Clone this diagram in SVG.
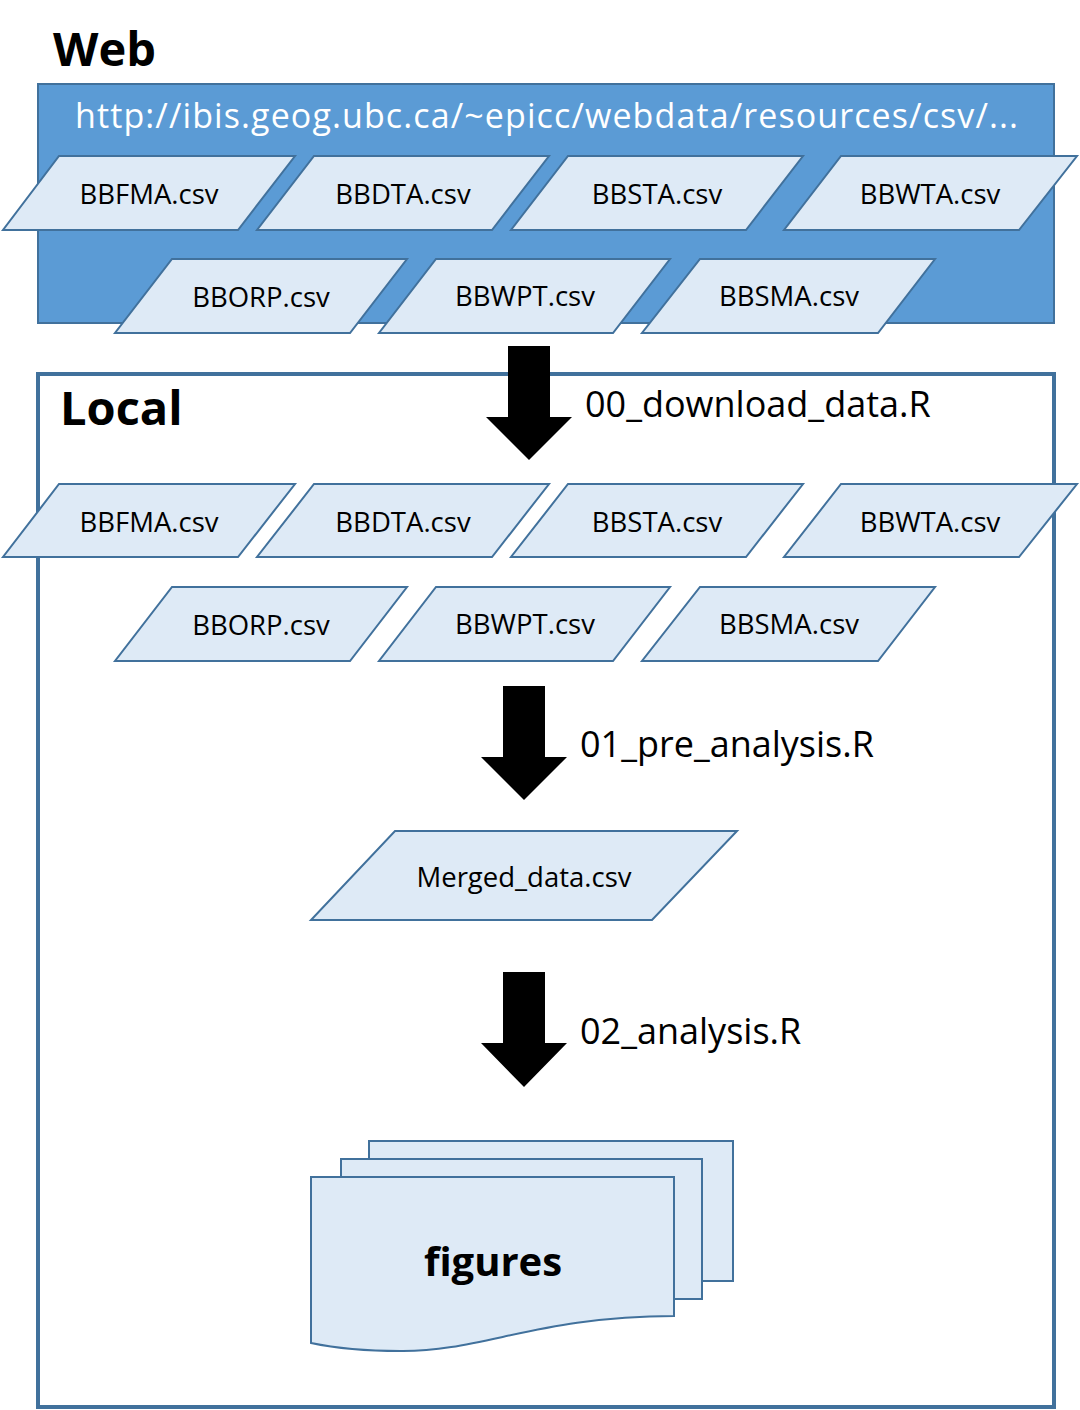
<svg xmlns="http://www.w3.org/2000/svg" width="1080" height="1410" viewBox="0 0 1080 1410">
<style>
.pg{fill:#DEEAF6;stroke:#41719C;stroke-width:2}
.lbl{font-family:"Open Sans","Noto Sans",sans-serif;font-size:27.5px;fill:#000;text-anchor:middle}
.step{font-family:"Open Sans","Noto Sans",sans-serif;font-size:36px;fill:#000}
.title{font-family:"Open Sans","Noto Sans",sans-serif;font-size:47px;font-weight:bold;fill:#000}
.arr{fill:#000}
</style>
<rect width="1080" height="1410" fill="#fff"/>
<g id="web">
<rect x="38" y="84" width="1016" height="239" fill="#5B9BD5" stroke="#41719C" stroke-width="2"/>
<text class="title" x="53" y="66">Web</text>
<text x="75" y="128" font-family="Open Sans, Noto Sans, sans-serif" font-size="34" fill="#fff" textLength="943">http://ibis.geog.ubc.ca/~epicc/webdata/resources/csv/...</text>
</g>
<g id="web-BBFMA"><polygon class="pg" points="59,156 295,156 238,230 3,230"/><text class="lbl" x="149" y="204">BBFMA.csv</text></g>
<g id="web-BBDTA"><polygon class="pg" points="314,156 549,156 492,230 257,230"/><text class="lbl" x="403" y="204">BBDTA.csv</text></g>
<g id="web-BBSTA"><polygon class="pg" points="568,156 803,156 746,230 511,230"/><text class="lbl" x="657" y="204">BBSTA.csv</text></g>
<g id="web-BBWTA"><polygon class="pg" points="841,156 1077,156 1019,230 784,230"/><text class="lbl" x="930" y="204">BBWTA.csv</text></g>
<g id="web-BBORP"><polygon class="pg" points="172,259 407,259 350,333 115,333"/><text class="lbl" x="261" y="307">BBORP.csv</text></g>
<g id="web-BBWPT"><polygon class="pg" points="436,259 670,259 613,333 379,333"/><text class="lbl" x="525" y="306">BBWPT.csv</text></g>
<g id="web-BBSMA"><polygon class="pg" points="700,259 935,259 878,333 642,333"/><text class="lbl" x="789" y="306">BBSMA.csv</text></g>
<g id="local">
<rect x="38" y="374" width="1016" height="1033" fill="#fff" stroke="#41719C" stroke-width="4"/>
<text class="title" x="60" y="425">Local</text>
</g>
<g id="local-BBFMA"><polygon class="pg" points="59,484 295,484 238,557 3,557"/><text class="lbl" x="149" y="532">BBFMA.csv</text></g>
<g id="local-BBDTA"><polygon class="pg" points="314,484 549,484 492,557 257,557"/><text class="lbl" x="403" y="532">BBDTA.csv</text></g>
<g id="local-BBSTA"><polygon class="pg" points="568,484 803,484 746,557 511,557"/><text class="lbl" x="657" y="532">BBSTA.csv</text></g>
<g id="local-BBWTA"><polygon class="pg" points="841,484 1077,484 1019,557 784,557"/><text class="lbl" x="930" y="532">BBWTA.csv</text></g>
<g id="local-BBORP"><polygon class="pg" points="172,587 407,587 350,661 115,661"/><text class="lbl" x="261" y="635">BBORP.csv</text></g>
<g id="local-BBWPT"><polygon class="pg" points="436,587 670,587 613,661 379,661"/><text class="lbl" x="525" y="634">BBWPT.csv</text></g>
<g id="local-BBSMA"><polygon class="pg" points="700,587 935,587 878,661 642,661"/><text class="lbl" x="789" y="634">BBSMA.csv</text></g>
<g id="merged"><polygon class="pg" points="395,831 737,831 652,920 311,920"/><text class="lbl" x="524" y="887">Merged_data.csv</text></g>
<g id="figures">
<path class="pg" d="M369,1141 H733 V1281 H702 V1159 H369 Z"/>
<path class="pg" d="M341,1159 H702 V1299 H674 V1177 H341 Z"/>
<path class="pg" d="M311,1177 H674 V1316 C540,1316 480,1352 400,1351 C360,1351 330,1347 311,1343 Z"/>
<text x="493" y="1276" font-family="Open Sans, Noto Sans, sans-serif" font-size="40" font-weight="bold" text-anchor="middle">figures</text>
</g>
<g id="connectors">
<polygon class="arr" points="508,346 550,346 550,417 572,417 529,460 486,417 508,417"/>
<text class="step" x="585" y="417">00_download_data.R</text>
<polygon class="arr" points="503,686 545,686 545,757 567,757 524,800 481,757 503,757"/>
<text class="step" x="580" y="757">01_pre_analysis.R</text>
<polygon class="arr" points="503,972 545,972 545,1043 567,1043 524,1087 481,1043 503,1043"/>
<text class="step" x="580" y="1044">02_analysis.R</text>
</g>
</svg>
